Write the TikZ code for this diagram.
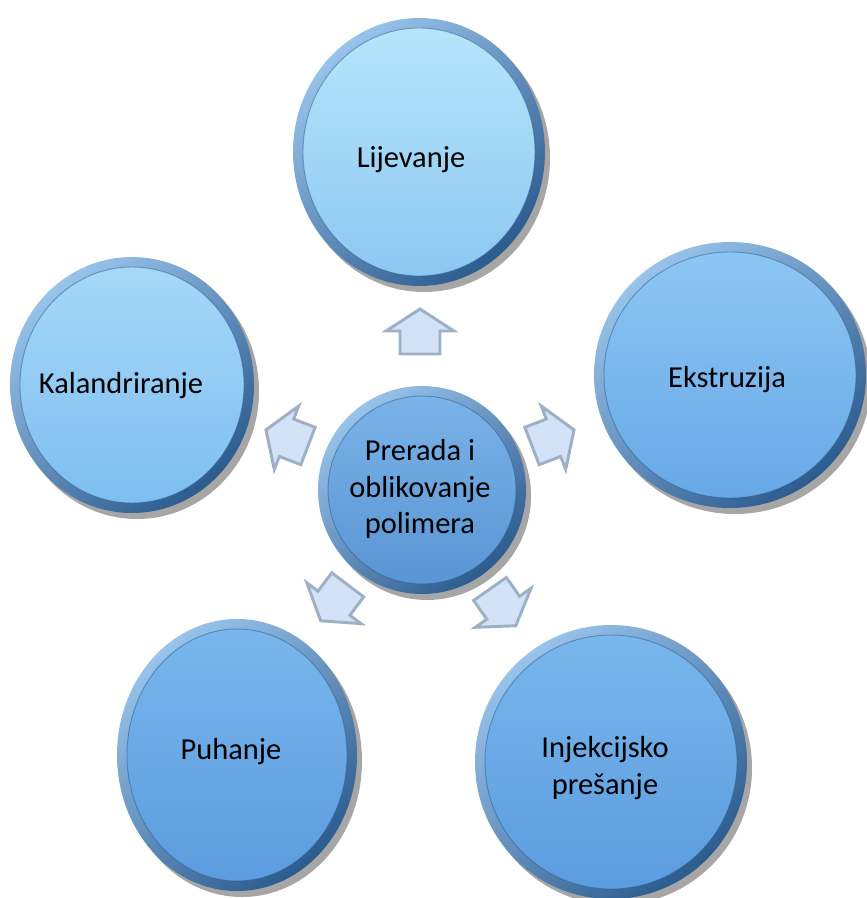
\documentclass[tikz,border=0pt]{standalone}
\usepackage{fontspec}
\setmainfont{Carlito}
\definecolor{ringlight}{HTML}{98C3EA}
\definecolor{ringdark}{HTML}{2C5B8E}
\definecolor{arrowfill}{HTML}{D3E2F6}
\definecolor{arrowedge}{HTML}{9DB0C6}
\definecolor{paletop}{HTML}{B6E5FB}
\definecolor{palebot}{HTML}{8DC7F1}
\definecolor{midtop}{HTML}{8CC6F3}
\definecolor{midbot}{HTML}{68A8E7}
\definecolor{deeptop}{HTML}{78B6EC}
\definecolor{deepbot}{HTML}{5C9CDF}
\definecolor{lighttop}{HTML}{A6D8F8}
\definecolor{lightbot}{HTML}{7EBEF0}
\definecolor{centop}{HTML}{7AB3E8}
\definecolor{cenbot}{HTML}{5A95D4}
\tikzset{
  ringshade/.style={top color=ringlight,bottom color=ringdark,shading angle=40},
  label/.style={font=\fontsize{26}{31}\selectfont,text=black,align=center,inner sep=0pt},
  arrowbox/.style={fill=arrowfill,draw=arrowedge,line width=2.5pt,line join=miter}
}
% ring + inside of one disc
\newcommand{\disc}[6]{%
  \fill[black,opacity=.35] (#1+5,#2-6) ellipse [x radius=#3, y radius=#4];
  \shade[ringshade] (#1,#2) ellipse [x radius=#3, y radius=#4];
  \shade[top color=#5,bottom color=#6] (#1,#2) ellipse [x radius=#3-10, y radius=#4-10];
  \draw[ringdark,opacity=.5,line width=.8pt] (#1,#2) ellipse [x radius=#3-10, y radius=#4-10];}
% one block arrow, pointing away from the centre
\newcommand{\blockarrow}[2]{%
  \draw[arrowbox,shift={(cen.center)},rotate=#1] (#2,-20) -- (#2+23,-20) -- (#2+23,-34)
    -- (#2+45,0) -- (#2+23,34) -- (#2+23,20) -- (#2,20) -- cycle;}
\begin{document}
\begin{tikzpicture}[x=0.03cm,y=0.03cm]
\useasboundingbox (0,0) rectangle (866,-898);
\disc{419}{-152}{126}{134}{paletop}{palebot}
\disc{730}{-375}{136}{133}{midtop}{midbot}
\disc{611}{-762}{136}{137}{deeptop}{deepbot}
\disc{237}{-755}{120}{136}{deeptop}{deepbot}
\disc{132}{-385}{122}{128}{lighttop}{lightbot}
\disc{422}{-490}{104}{104}{centop}{cenbot}
\node[label] (cen) at (420,-489) {Prerada i\\oblikovanje\\polimera};
\node[label] (lij) at (411,-160) {Lijevanje};
\node[label] (eks) at (727,-380) {Ekstruzija};
\node[label] (inj) at (605,-768) {Injekcijsko\\prešanje};
\node[label] (puh) at (231,-752) {Puhanje};
\node[label] (kal) at (121,-386) {Kalandriranje};
\blockarrow{90}{135}
\blockarrow{21}{120}
\blockarrow{-55}{122}
\blockarrow{-127}{120}
\blockarrow{159}{120}
\end{tikzpicture}
\end{document}
